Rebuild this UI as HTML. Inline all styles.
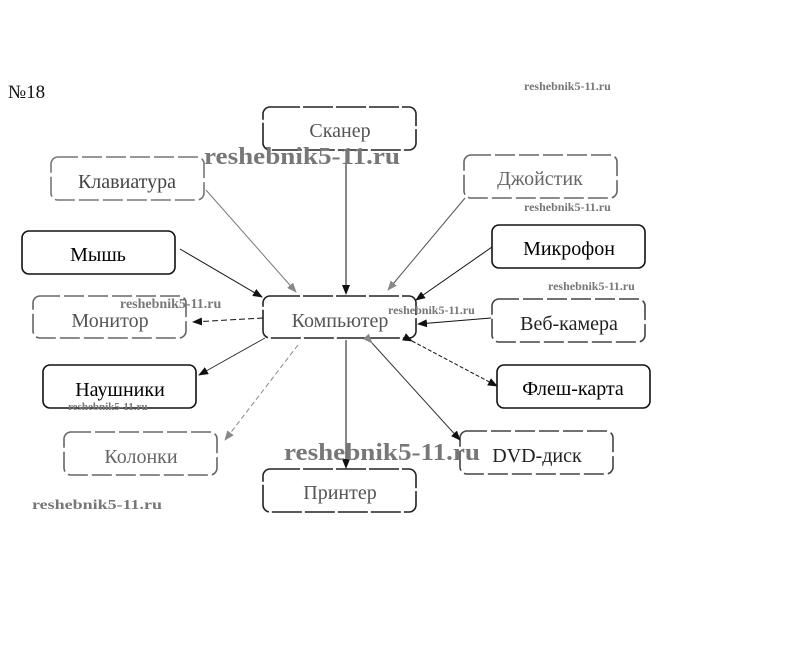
<!DOCTYPE html>
<html><head><meta charset="utf-8"><style>
html,body{margin:0;padding:0;background:#fff;width:806px;height:647px;overflow:hidden}
svg text{font-family:"Liberation Serif","DejaVu Serif",serif}
</style></head><body>
<svg width="806" height="647" xmlns="http://www.w3.org/2000/svg">
<defs>
<marker id="a" markerWidth="10" markerHeight="8" refX="9" refY="4" orient="auto" markerUnits="userSpaceOnUse"><path d="M0,0 L10,4 L0,8 z" fill="#111"/></marker>
<marker id="g" markerWidth="10" markerHeight="8" refX="9" refY="4" orient="auto" markerUnits="userSpaceOnUse"><path d="M0,0 L10,4 L0,8 z" fill="#888"/></marker>
</defs>
<text x="8" y="98" font-size="19" fill="#111">№18</text>
<g fill="#fff" stroke-width="1.6">
<rect x="263" y="107" width="153" height="43" rx="7" stroke="#222" stroke-dasharray="30 3"/>
<rect x="51" y="157" width="153" height="43" rx="7" stroke="#777" stroke-dasharray="20 4"/>
<rect x="22" y="231" width="153" height="43" rx="7" stroke="#111"/>
<rect x="33" y="296" width="153" height="42" rx="7" stroke="#666" stroke-dasharray="20 4"/>
<rect x="263" y="296" width="153" height="42" rx="7" stroke="#222" stroke-dasharray="30 3"/>
<rect x="43" y="365" width="153" height="43" rx="7" stroke="#111"/>
<rect x="64" y="432" width="153" height="43" rx="7" stroke="#666" stroke-dasharray="20 4"/>
<rect x="263" y="469" width="153" height="43" rx="7" stroke="#222" stroke-dasharray="30 3"/>
<rect x="464" y="155" width="153" height="43" rx="7" stroke="#666" stroke-dasharray="20 4"/>
<rect x="492" y="225" width="153" height="43" rx="7" stroke="#111"/>
<rect x="492" y="299" width="153" height="43" rx="7" stroke="#444" stroke-dasharray="20 4"/>
<rect x="497" y="365" width="153" height="43" rx="7" stroke="#111"/>
<rect x="460" y="431" width="153" height="43" rx="7" stroke="#444" stroke-dasharray="20 4"/>
</g>
<g stroke-width="1">
<line x1="346" y1="150" x2="346" y2="294" stroke="#111" marker-end="url(#a)"/>
<line x1="206" y1="190" x2="296" y2="292" stroke="#777" marker-end="url(#g)"/>
<line x1="180" y1="249" x2="262" y2="297" stroke="#111" marker-end="url(#a)"/>
<line x1="263" y1="318" x2="193" y2="322" stroke="#111" stroke-dasharray="6 3" marker-end="url(#a)"/>
<line x1="265" y1="338" x2="199" y2="375" stroke="#333" marker-end="url(#a)"/>
<line x1="298" y1="345" x2="225" y2="440" stroke="#888" stroke-dasharray="5 3" marker-end="url(#g)"/>
<line x1="346" y1="340" x2="346" y2="468" stroke="#111" marker-end="url(#a)"/>
<line x1="465" y1="198" x2="388" y2="290" stroke="#555" marker-end="url(#g)"/>
<line x1="492" y1="247" x2="416" y2="300" stroke="#111" marker-end="url(#a)"/>
<line x1="491" y1="318" x2="418" y2="324" stroke="#111" marker-end="url(#a)"/>
<line x1="412" y1="341" x2="497" y2="386" stroke="#111" stroke-dasharray="4 2" marker-start="url(#a)" marker-end="url(#a)"/>
<line x1="372" y1="343" x2="460" y2="440" stroke="#333" marker-start="url(#g)" marker-end="url(#a)"/>
</g>
<g font-size="20" text-anchor="middle">
<text x="340" y="137" fill="#555">Сканер</text>
<text x="127" y="188" fill="#444">Клавиатура</text>
<text x="98" y="261" fill="#000">Мышь</text>
<text x="110" y="327" fill="#555">Монитор</text>
<text x="340" y="327" fill="#555">Компьютер</text>
<text x="120" y="396" fill="#000">Наушники</text>
<text x="141" y="463" fill="#666">Колонки</text>
<text x="340" y="499" fill="#555">Принтер</text>
<text x="540" y="185" fill="#666">Джойстик</text>
<text x="569" y="255" fill="#000">Микрофон</text>
<text x="569" y="330" fill="#222">Веб-камера</text>
<text x="573" y="395" fill="#000">Флеш-карта</text>
<text x="537" y="462" fill="#222">DVD-диск</text>
</g>
<g font-weight="bold" fill="#777">
<text x="524" y="90" font-size="12">reshebnik5-11.ru</text>
<text x="204" y="164" font-size="24" textLength="196" lengthAdjust="spacingAndGlyphs">reshebnik5-11.ru</text>
<text x="524" y="211" font-size="12">reshebnik5-11.ru</text>
<text x="548" y="290" font-size="12">reshebnik5-11.ru</text>
<text x="120" y="308" font-size="14">reshebnik5-11.ru</text>
<text x="388" y="314" font-size="12">reshebnik5-11.ru</text>
<text x="68" y="410" font-size="11">reshebnik5-11.ru</text>
<text x="284" y="460" font-size="24" textLength="196" lengthAdjust="spacingAndGlyphs">reshebnik5-11.ru</text>
<text x="32" y="509" font-size="14" textLength="130" lengthAdjust="spacingAndGlyphs">reshebnik5-11.ru</text>
</g>
</svg>
</body></html>
